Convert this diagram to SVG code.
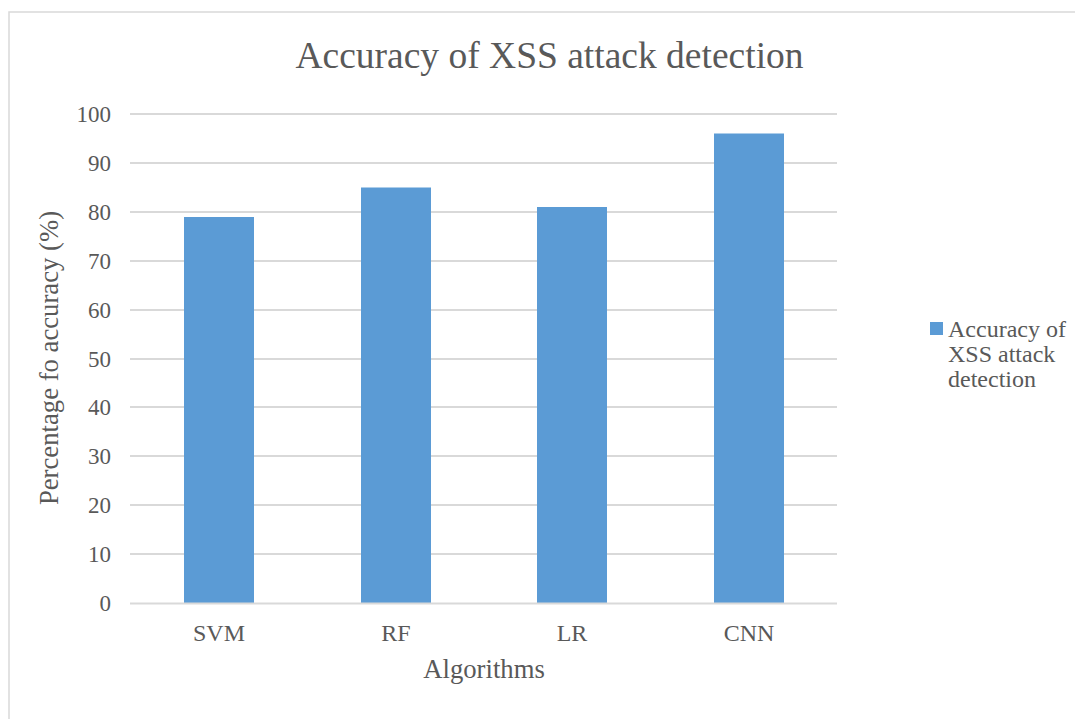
<svg xmlns="http://www.w3.org/2000/svg" width="1075" height="719" viewBox="0 0 1075 719">
  <style>
    text { font-family: "Liberation Serif", "Times New Roman", serif; fill: #595959; }
    .title { font-size: 37.5px; }
    .tick { font-size: 23px; text-anchor: end; }
    .cat { font-size: 24px; text-anchor: middle; }
    .axis { font-size: 26.7px; text-anchor: middle; }
    .legend { font-size: 24px; }
    .grid { stroke: #d9d9d9; stroke-width: 2; }
    .bar { fill: #5b9bd5; }
  </style>

  <rect x="0" y="0" width="1075" height="719" fill="#ffffff"/>
  <!-- chart area frame -->
  <rect x="9" y="12" width="1100" height="740" fill="none" stroke="#d9d9d9" stroke-width="1.5"/>

  <text class="title" x="549.5" y="68" text-anchor="middle">Accuracy of XSS attack detection</text>

  <!-- horizontal gridlines -->
  <g id="gridlines">
    <line class="grid" x1="130" y1="114" x2="837" y2="114"/>
    <line class="grid" x1="130" y1="163" x2="837" y2="163"/>
    <line class="grid" x1="130" y1="212" x2="837" y2="212"/>
    <line class="grid" x1="130" y1="261" x2="837" y2="261"/>
    <line class="grid" x1="130" y1="310" x2="837" y2="310"/>
    <line class="grid" x1="130" y1="359" x2="837" y2="359"/>
    <line class="grid" x1="130" y1="407" x2="837" y2="407"/>
    <line class="grid" x1="130" y1="456" x2="837" y2="456"/>
    <line class="grid" x1="130" y1="505" x2="837" y2="505"/>
    <line class="grid" x1="130" y1="554" x2="837" y2="554"/>
  </g>

  <!-- y-axis tick labels -->
  <g id="y-ticks">
    <text class="tick" x="111" y="122">100</text>
    <text class="tick" x="111" y="171">90</text>
    <text class="tick" x="111" y="220">80</text>
    <text class="tick" x="111" y="269">70</text>
    <text class="tick" x="111" y="318">60</text>
    <text class="tick" x="111" y="367">50</text>
    <text class="tick" x="111" y="415">40</text>
    <text class="tick" x="111" y="464">30</text>
    <text class="tick" x="111" y="513">20</text>
    <text class="tick" x="111" y="562">10</text>
    <text class="tick" x="111" y="611">0</text>
  </g>

  <!-- bars -->
  <g id="bar-svm"><rect class="bar" x="184" y="217" width="70" height="386.5"/></g>
  <g id="bar-rf"><rect class="bar" x="361" y="187.5" width="70" height="416"/></g>
  <g id="bar-lr"><rect class="bar" x="537" y="207" width="70" height="396.5"/></g>
  <g id="bar-cnn"><rect class="bar" x="714" y="133.5" width="70" height="470"/></g>

  <!-- baseline axis -->
  <line class="grid" x1="130" y1="603.5" x2="837" y2="603.5"/>

  <!-- category labels -->
  <g id="x-ticks">
    <text class="cat" x="219" y="641">SVM</text>
    <text class="cat" x="396" y="641">RF</text>
    <text class="cat" x="572" y="641">LR</text>
    <text class="cat" x="749" y="641">CNN</text>
  </g>

  <text class="axis" x="484" y="678">Algorithms</text>
  <text class="axis" transform="translate(58 358) rotate(-90)">Percentage fo accuracy (%)</text>

  <!-- legend -->
  <g id="legend">
    <rect class="bar" x="930" y="322" width="13" height="13"/>
    <text class="legend" x="948" y="337">Accuracy of</text>
    <text class="legend" x="948" y="362">XSS attack</text>
    <text class="legend" x="948" y="387">detection</text>
  </g>
</svg>
